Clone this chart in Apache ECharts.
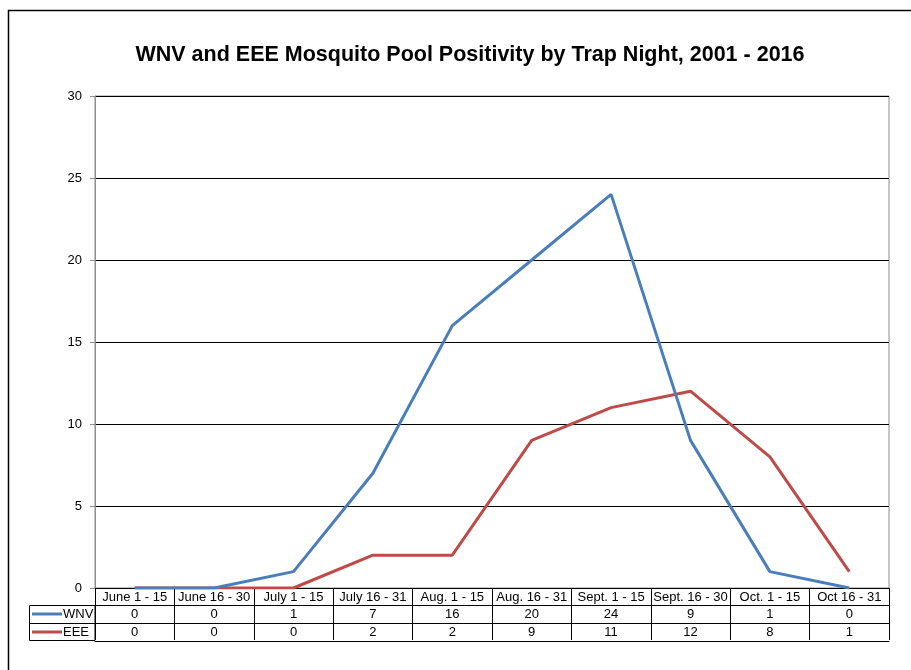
<!DOCTYPE html>
<html>
<head>
<meta charset="utf-8">
<script src="https://cdn.jsdelivr.net/npm/echarts@6/dist/echarts.min.js"></script>
<style>
  html, body { margin: 0; padding: 0; background: #fff; }
  #chart { width: 911px; height: 670px; }
</style>
</head>
<body>
<div id="chart"></div>
<script>
// trap night periods
const periods = ['June 1 - 15', 'June 16 - 30', 'July 1 - 15', 'July 16 - 31', 'Aug. 1 - 15',
  'Aug. 16 - 31', 'Sept. 1 - 15', 'Sept. 16 - 30', 'Oct. 1 - 15', 'Oct 16 - 31']
const wnv = [0, 0, 1, 7, 16, 20, 24, 9, 1, 0]
const eee = [0, 0, 0, 2, 2, 9, 11, 12, 8, 1]

const BLUE = '#4a7ebb'
const RED = '#be4b48'
const FONT = 'Liberation Sans, Arial, sans-serif'

// one category axis per table row, stacked under the plot
function tableAxis(offset, values, showTicks) {
  return {
    type: 'category', data: periods, position: 'bottom', offset: offset,
    axisLine: { show: true, lineStyle: { color: '#000', width: 1 } },
    axisTick: { show: showTicks, interval: 0, length: offset === 17 ? 18 : 17,
      lineStyle: { color: '#000', width: 1 } },
    axisLabel: {
      show: !!values, interval: 0, margin: 3, color: '#000', fontSize: 13, fontFamily: FONT,
      formatter: (v, i) => values ? String(values[i]) : ''
    },
    splitLine: { show: false }
  }
}

const chart = echarts.init(document.getElementById('chart'))
chart.setOption({
  animation: false,
  backgroundColor: '#fff',
  title: {
    text: 'WNV and EEE Mosquito Pool Positivity by Trap Night, 2001 - 2016',
    left: 465, top: 39, textAlign: 'center',
    textStyle: { fontFamily: FONT, fontWeight: 'bold', fontSize: 21.5, color: '#000' }
  },
  legend: {
    data: [{ name: 'WNV', icon: 'rect' }, { name: 'EEE', icon: 'rect' }],
    orient: 'vertical', left: 32, top: 607,
    itemWidth: 30, itemHeight: 3, itemGap: 4, padding: 0,
    textStyle: { color: '#000', fontSize: 13, lineHeight: 14, fontFamily: FONT, padding: [0, 0, 0, -4] }
  },
  grid: { left: 95, right: 22, top: 96, bottom: 82, show: true,
    borderColor: '#8c8c8c', borderWidth: 1, backgroundColor: '#fff' },
  xAxis: [
    {
      type: 'category', data: periods, position: 'bottom',
      axisLine: { lineStyle: { color: '#000', width: 1 } },
      axisTick: { show: true, interval: 0, length: 17, lineStyle: { color: '#000' } },
      axisLabel: { interval: 0, margin: 3, color: '#000', fontSize: 13, fontFamily: FONT },
      splitLine: { show: false }
    },
    tableAxis(17, wnv, true),
    tableAxis(35, eee, true),
    tableAxis(53, null, false)
  ],
  yAxis: {
    type: 'value', min: 0, max: 30, interval: 5,
    axisLine: { show: true, lineStyle: { color: '#8c8c8c' } },
    axisTick: { show: true, length: 5, lineStyle: { color: '#8c8c8c' } },
    axisLabel: { color: '#000', fontSize: 13, fontFamily: FONT, margin: 13 },
    splitLine: { lineStyle: { color: '#000', width: 1 } }
  },
  graphic: [
    // chart area frame
    { type: 'rect', shape: { x: 8.5, y: 10.5, width: 1000, height: 1000 },
      style: { fill: 'none', stroke: '#000', lineWidth: 1.5 }, silent: true },
    // legend column of the data table
    { type: 'rect', shape: { x: 29.5, y: 605.5, width: 65.5, height: 35 },
      style: { fill: 'none', stroke: '#000', lineWidth: 1 }, silent: true, z: 10 },
    { type: 'line', shape: { x1: 29.5, y1: 623.5, x2: 95, y2: 623.5 },
      style: { stroke: '#000', lineWidth: 1 }, silent: true, z: 10 }
  ],
  series: [
    { name: 'WNV', type: 'line', data: wnv, z: 3, symbol: 'none',
      lineStyle: { color: BLUE, width: 3 }, itemStyle: { color: BLUE } },
    { name: 'EEE', type: 'line', data: eee, z: 2, symbol: 'none',
      lineStyle: { color: RED, width: 3 }, itemStyle: { color: RED } }
  ]
})
</script>
</body>
</html>
